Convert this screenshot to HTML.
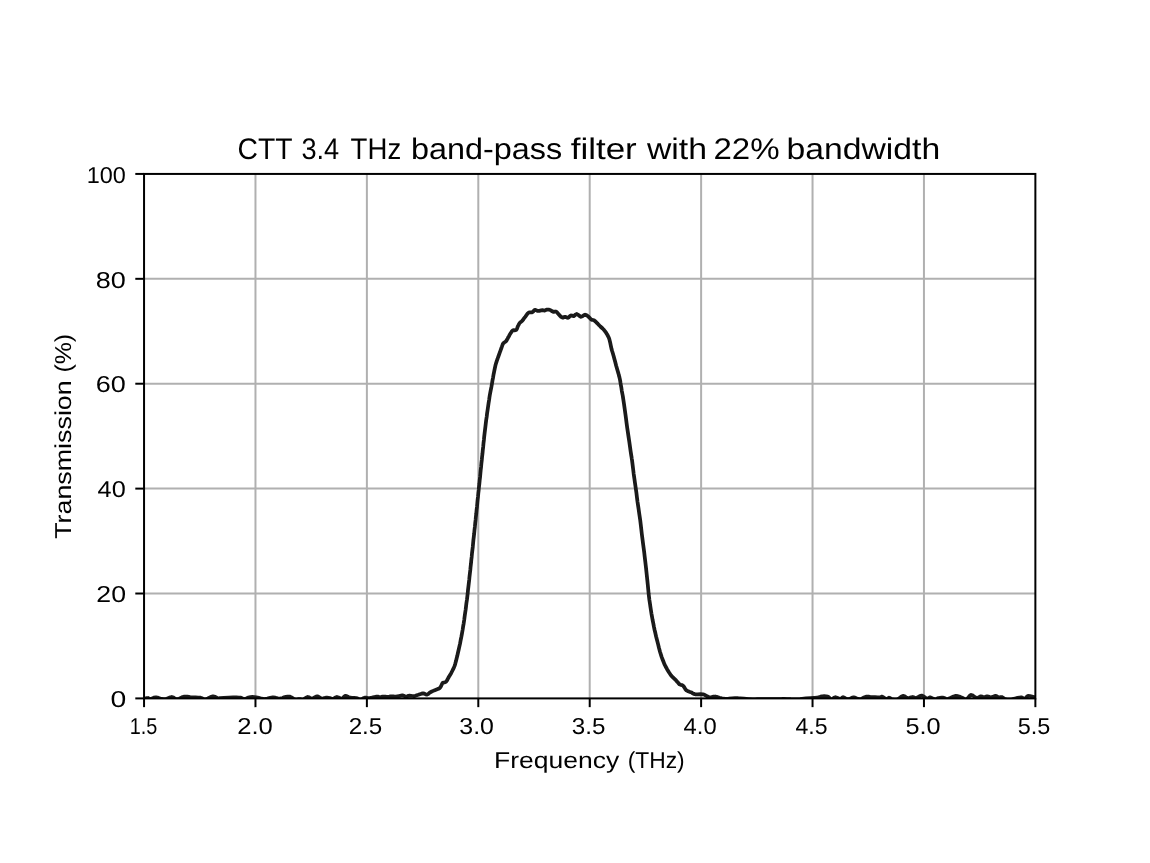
<!DOCTYPE html>
<html><head><meta charset="utf-8"><style>
html,body{margin:0;padding:0;background:#fff;}
body{width:1150px;height:863px;overflow:hidden;}
svg{display:block;}
text{font-family:"Liberation Sans",sans-serif;fill:#000;text-rendering:geometricPrecision;}
text.t{stroke:#fff;stroke-width:0;}
</style></head><body>
<svg width="1150" height="863" viewBox="0 0 1150 863">
<rect x="0" y="0" width="1150" height="863" fill="#fff"/>
<g stroke="#b0b0b0" stroke-width="2">
<line x1="255.47" y1="173.93" x2="255.47" y2="698.40"/>
<line x1="366.88" y1="173.93" x2="366.88" y2="698.40"/>
<line x1="478.30" y1="173.93" x2="478.30" y2="698.40"/>
<line x1="589.71" y1="173.93" x2="589.71" y2="698.40"/>
<line x1="701.12" y1="173.93" x2="701.12" y2="698.40"/>
<line x1="812.54" y1="173.93" x2="812.54" y2="698.40"/>
<line x1="923.95" y1="173.93" x2="923.95" y2="698.40"/>
<line x1="144.05" y1="593.51" x2="1035.37" y2="593.51"/>
<line x1="144.05" y1="488.61" x2="1035.37" y2="488.61"/>
<line x1="144.05" y1="383.72" x2="1035.37" y2="383.72"/>
<line x1="144.05" y1="278.82" x2="1035.37" y2="278.82"/>
</g>
<defs><clipPath id="ax"><rect x="144.05" y="173.93" width="891.32" height="524.47"/></clipPath></defs>
<path d="M144.0,698.7 L145.1,698.5 L146.6,698.2 L148.0,698.0 L148.8,698.4 L149.4,698.9 L150.4,699.1 L151.9,698.6 L153.8,697.7 L156.0,697.3 L158.6,697.9 L161.5,698.9 L164.3,699.4 L166.9,698.8 L169.4,697.6 L171.7,697.0 L173.5,697.6 L175.1,698.8 L176.9,699.4 L179.2,698.7 L181.8,697.4 L184.5,696.5 L187.3,696.5 L190.1,697.0 L192.9,697.3 L195.6,697.4 L198.2,697.5 L200.5,697.7 L202.2,698.3 L203.7,699.2 L205.4,699.4 L207.8,698.5 L210.5,697.1 L213.0,696.3 L215.2,696.8 L217.1,697.9 L218.6,698.7 L218.9,698.7 L218.8,698.4 L220.0,698.0 L223.7,697.8 L228.8,697.5 L233.2,697.3 L236.3,697.3 L238.9,697.5 L240.9,697.7 L242.2,698.2 L243.1,698.8 L244.3,699.1 L246.2,698.5 L248.4,697.6 L250.6,697.0 L252.4,696.9 L254.2,697.0 L256.2,697.3 L258.8,697.9 L261.6,698.7 L264.5,699.1 L267.3,698.6 L270.2,697.8 L272.9,697.3 L275.4,697.7 L277.8,698.4 L279.8,698.7 L281.3,698.4 L282.6,697.9 L284.0,697.3 L285.8,696.9 L287.7,696.6 L289.6,696.6 L291.5,697.4 L293.3,698.6 L295.1,699.4 L296.9,699.5 L298.5,699.2 L300.0,699.1 L301.0,699.4 L301.8,699.8 L302.8,699.8 L304.3,698.9 L306.0,697.7 L307.7,697.0 L309.1,697.4 L310.4,698.3 L311.8,698.7 L313.6,698.0 L315.6,696.9 L317.4,696.3 L318.9,696.9 L320.3,698.0 L321.6,698.7 L323.0,698.6 L324.3,698.1 L325.7,697.7 L327.1,697.7 L328.6,697.8 L329.9,698.0 L330.9,698.4 L331.7,698.9 L332.7,699.1 L334.0,698.5 L335.4,697.5 L336.9,697.0 L338.5,697.5 L340.2,698.3 L341.7,698.7 L342.9,698.0 L344.0,696.7 L345.2,695.9 L346.7,696.2 L348.3,697.0 L350.1,697.7 L352.1,697.9 L354.3,697.9 L356.3,698.0 L357.8,698.6 L359.2,699.4 L360.5,699.8 L361.9,699.3 L363.2,698.3 L364.7,697.7 L366.2,697.7 L367.8,698.0 L369.6,698.0 L371.9,697.6 L374.4,697.0 L376.5,696.6 L377.9,696.7 L378.9,696.9 L380.0,697.0 L381.3,696.9 L382.6,696.7 L384.0,696.6 L385.3,696.6 L386.7,696.8 L388.0,696.8 L389.3,696.7 L390.7,696.4 L392.0,696.3 L393.3,696.4 L394.7,696.5 L396.0,696.6 L397.4,696.4 L398.8,696.2 L400.0,695.9 L400.9,695.7 L401.7,695.4 L402.6,695.4 L403.7,695.7 L404.9,696.2 L406.1,696.5 L407.2,696.3 L408.4,695.9 L409.6,695.7 L411.0,695.8 L412.4,696.0 L413.9,696.1 L415.3,695.8 L416.8,695.3 L418.3,694.8 L419.9,694.2 L421.5,693.7 L423.0,693.4 L424.4,693.7 L425.7,694.4 L427.0,694.6 L428.1,694.1 L429.2,693.1 L430.4,692.2 L431.8,691.5 L433.2,690.9 L434.8,690.2 L436.6,689.5 L438.4,688.8 L440.0,687.8 L441.0,686.2 L441.8,684.4 L442.6,683.0 L443.7,682.5 L444.8,682.4 L445.9,681.9 L446.9,680.6 L447.8,678.8 L448.8,677.0 L449.9,675.2 L451.0,673.4 L452.0,671.5 L452.9,669.7 L453.8,667.9 L454.6,665.9 L455.3,663.6 L456.0,661.1 L456.6,658.5 L457.3,655.8 L457.9,653.0 L458.6,650.0 L459.3,646.8 L460.1,643.4 L460.7,640.0 L461.4,636.7 L462.0,633.3 L462.6,630.0 L463.1,626.7 L463.7,623.3 L464.2,620.0 L464.6,616.7 L465.1,613.3 L465.6,610.0 L466.0,606.7 L466.4,603.3 L466.9,600.0 L467.3,596.7 L467.7,593.3 L468.0,590.0 L468.4,586.7 L468.8,583.3 L469.2,580.0 L469.5,576.7 L469.9,573.3 L470.3,570.0 L470.6,566.7 L471.0,563.3 L471.3,560.0 L471.7,556.7 L472.0,553.3 L472.4,550.0 L472.8,546.7 L473.1,543.3 L473.4,540.0 L473.8,536.7 L474.2,533.3 L474.5,530.0 L474.9,526.7 L475.2,523.3 L475.6,520.0 L475.9,516.7 L476.3,513.3 L476.6,510.0 L477.0,506.7 L477.3,503.3 L477.6,500.0 L478.0,496.7 L478.3,493.3 L478.7,490.0 L479.0,486.7 L479.4,483.3 L479.7,480.0 L480.1,476.7 L480.4,473.3 L480.7,470.0 L481.1,466.7 L481.4,463.3 L481.8,460.0 L482.1,456.7 L482.5,453.3 L482.8,450.0 L483.2,446.7 L483.5,443.3 L483.9,440.0 L484.2,436.7 L484.6,433.3 L485.0,430.0 L485.4,426.7 L485.8,423.3 L486.2,420.0 L486.7,416.7 L487.1,413.3 L487.6,410.0 L488.1,406.5 L488.6,403.1 L489.1,400.0 L489.4,397.7 L489.7,395.8 L490.1,393.5 L490.7,390.4 L491.4,386.9 L492.0,383.5 L492.5,380.4 L493.1,377.3 L493.6,374.3 L494.2,371.3 L494.8,368.3 L495.4,365.6 L496.1,363.1 L496.8,360.9 L497.5,359.0 L498.0,357.5 L498.5,356.3 L498.9,355.0 L499.4,353.6 L499.9,352.2 L500.4,350.8 L500.9,349.4 L501.4,348.0 L501.9,346.7 L502.3,345.5 L502.7,344.3 L503.3,343.3 L504.2,342.5 L505.2,341.9 L506.1,341.1 L506.9,339.9 L507.6,338.6 L508.3,337.2 L509.1,335.9 L509.8,334.5 L510.6,333.3 L511.3,332.2 L512.0,331.1 L512.8,330.4 L513.9,330.2 L515.1,330.3 L516.2,330.0 L516.9,329.0 L517.4,327.5 L517.9,326.2 L518.5,325.1 L519.0,324.0 L519.7,323.0 L520.5,322.2 L521.5,321.5 L522.4,320.6 L523.3,319.5 L524.2,318.1 L525.2,316.8 L526.3,315.3 L527.5,313.7 L528.7,312.6 L529.9,312.3 L531.1,312.4 L532.2,312.3 L533.2,311.5 L534.1,310.4 L535.0,309.8 L535.8,310.0 L536.6,310.5 L537.7,310.9 L539.3,310.8 L541.1,310.4 L542.6,310.2 L543.5,310.3 L544.1,310.5 L544.7,310.5 L545.5,310.2 L546.2,309.8 L547.1,309.5 L548.1,309.5 L549.1,309.7 L550.2,310.0 L551.2,310.6 L552.3,311.3 L553.3,311.8 L554.3,311.8 L555.2,311.5 L556.2,311.6 L557.1,312.4 L558.0,313.6 L559.0,314.7 L560.1,315.8 L561.1,316.8 L562.2,317.5 L563.2,317.5 L564.1,317.0 L565.0,316.8 L566.0,317.1 L567.1,317.7 L568.1,317.8 L569.1,317.1 L570.0,316.1 L570.9,315.4 L571.8,315.5 L572.7,316.0 L573.7,316.1 L574.7,315.4 L575.7,314.4 L576.8,314.0 L578.1,314.8 L579.6,316.0 L581.0,316.8 L582.4,316.3 L583.8,315.3 L585.1,314.7 L586.3,315.1 L587.5,315.9 L588.6,316.8 L589.6,317.8 L590.5,318.8 L591.4,319.6 L592.3,319.9 L593.1,320.0 L594.0,320.3 L594.9,321.0 L595.9,321.9 L596.8,322.8 L597.7,323.7 L598.5,324.6 L599.4,325.5 L600.4,326.5 L601.5,327.5 L602.6,328.5 L603.6,329.5 L604.5,330.6 L605.4,331.7 L606.2,332.9 L607.0,334.2 L607.7,335.5 L608.3,336.6 L608.8,337.7 L609.4,339.4 L610.1,342.2 L610.8,345.7 L611.5,348.9 L612.2,351.3 L612.9,353.5 L613.6,355.9 L614.4,359.0 L615.3,362.3 L616.1,365.5 L616.9,368.3 L617.7,371.0 L618.4,373.4 L618.9,375.4 L619.4,377.1 L619.8,378.9 L620.2,380.9 L620.5,382.9 L620.9,385.2 L621.4,387.9 L621.8,390.8 L622.3,393.5 L622.7,395.5 L623.0,397.4 L623.4,400.0 L624.0,404.1 L624.7,409.0 L625.4,413.9 L626.0,418.5 L626.6,423.2 L627.2,427.8 L627.9,432.4 L628.6,437.1 L629.3,441.7 L630.0,446.7 L630.7,451.7 L631.3,455.6 L631.6,457.4 L631.7,458.2 L632.0,460.0 L632.5,463.9 L633.1,468.9 L633.7,473.9 L634.4,478.8 L635.1,483.7 L635.8,488.5 L636.4,492.8 L636.9,497.0 L637.5,501.7 L638.4,507.6 L639.3,514.0 L640.2,520.0 L640.8,525.0 L641.3,529.4 L641.8,533.9 L642.4,538.5 L643.0,543.2 L643.6,547.8 L644.2,552.3 L644.7,556.7 L645.3,561.7 L646.0,567.8 L646.7,574.4 L647.3,580.0 L647.7,583.9 L648.0,587.0 L648.3,590.0 L648.6,593.3 L649.0,596.7 L649.4,600.0 L649.9,603.3 L650.4,606.7 L650.9,610.0 L651.4,613.3 L652.0,616.7 L652.6,620.0 L653.3,623.3 L653.9,626.7 L654.6,630.0 L655.4,633.3 L656.1,636.5 L657.0,640.0 L658.0,643.9 L659.0,648.0 L660.0,651.7 L660.9,654.6 L661.7,657.1 L662.6,659.5 L663.5,661.8 L664.4,664.1 L665.6,666.5 L667.2,669.4 L669.1,672.5 L670.9,675.2 L672.7,677.2 L674.5,678.9 L676.1,680.4 L677.4,681.9 L678.4,683.2 L679.5,684.3 L680.7,684.8 L681.8,685.0 L683.0,685.6 L684.1,687.0 L685.2,688.9 L686.5,690.4 L688.2,691.3 L690.0,692.0 L691.7,692.6 L692.8,693.3 L693.8,693.9 L695.2,694.3 L697.6,694.4 L700.6,694.2 L703.0,694.3 L704.5,694.8 L705.5,695.4 L706.5,696.0 L707.6,696.5 L708.7,697.0 L710.0,697.3 L711.6,697.1 L713.5,696.7 L715.2,696.5 L716.6,696.8 L718.0,697.3 L719.5,697.8 L721.3,698.2 L723.3,698.7 L725.6,698.9 L728.6,698.7 L732.1,698.3 L735.0,698.0 L736.8,698.0 L738.1,698.2 L740.2,698.4 L744.0,698.7 L748.6,699.0 L752.7,699.3 L755.2,699.3 L757.1,699.2 L760.3,699.1 L766.3,699.1 L773.4,699.1 L779.1,699.1 L781.5,699.0 L782.4,698.9 L784.0,698.9 L787.1,699.0 L790.8,699.2 L795.0,699.3 L800.1,699.0 L805.8,698.4 L810.4,698.0 L813.2,697.9 L815.0,697.8 L816.7,697.7 L818.6,697.2 L820.5,696.7 L822.3,696.3 L824.2,696.2 L826.1,696.3 L827.8,696.6 L829.1,697.6 L830.2,698.8 L831.3,699.4 L832.6,698.9 L834.0,697.8 L835.5,697.2 L837.1,697.7 L838.8,698.6 L840.3,699.1 L841.3,698.6 L842.1,697.7 L843.1,697.2 L844.6,697.8 L846.2,698.8 L848.0,699.4 L849.8,698.9 L851.7,697.9 L853.6,697.3 L855.6,697.9 L857.7,698.9 L859.8,699.4 L861.9,698.7 L864.0,697.5 L866.1,696.6 L868.1,696.5 L870.1,696.8 L872.3,697.0 L875.0,697.1 L877.8,697.3 L880.0,697.3 L881.0,697.1 L881.5,696.7 L882.1,696.6 L883.4,697.4 L884.9,698.4 L886.3,699.1 L887.3,698.8 L888.1,698.1 L889.0,697.7 L890.1,698.1 L891.2,698.9 L892.5,699.4 L894.0,699.7 L895.7,699.7 L897.4,699.4 L899.2,698.3 L901.2,696.8 L903.0,695.9 L904.7,696.3 L906.2,697.4 L907.8,698.0 L909.5,697.8 L911.2,697.3 L912.7,697.0 L913.9,697.3 L914.9,697.9 L916.2,698.0 L917.9,697.3 L919.8,696.1 L921.7,695.6 L923.7,696.4 L925.6,697.8 L927.3,698.7 L928.4,698.5 L929.1,697.7 L930.1,697.3 L931.6,697.9 L933.4,698.9 L935.0,699.4 L936.2,699.2 L937.2,698.5 L938.4,698.0 L940.0,697.8 L941.7,697.6 L943.3,697.7 L944.6,698.1 L945.7,698.7 L946.8,699.1 L947.7,699.1 L948.4,698.8 L949.6,698.4 L951.4,697.5 L953.6,696.5 L955.8,695.9 L958.0,696.2 L960.2,696.9 L962.1,697.7 L963.6,698.5 L964.9,699.3 L966.3,699.4 L967.8,698.1 L969.4,696.1 L971.1,694.9 L973.0,695.6 L974.9,697.1 L976.7,698.0 L978.3,697.7 L979.7,696.8 L980.9,696.3 L981.9,696.5 L982.8,697.0 L983.7,697.3 L984.8,697.1 L985.9,696.6 L987.1,696.3 L988.4,696.6 L989.9,697.1 L991.3,697.3 L992.7,696.9 L994.2,696.3 L995.5,695.9 L996.7,696.3 L997.9,696.9 L999.0,697.3 L999.9,697.3 L1000.8,697.0 L1001.7,697.0 L1002.8,697.6 L1003.9,698.4 L1005.2,699.1 L1006.7,699.4 L1008.4,699.6 L1010.1,699.6 L1011.9,699.3 L1013.8,698.8 L1015.7,698.4 L1017.6,697.9 L1019.5,697.5 L1021.2,697.3 L1022.5,697.8 L1023.6,698.5 L1024.7,698.7 L1025.8,698.0 L1026.9,696.7 L1028.2,695.9 L1030.0,696.0 L1032.0,696.5 L1033.7,697.0 L1034.8,697.2 L1035.5,697.3 L1036.0,697.3" fill="none" stroke="#1a1a1a" stroke-width="3.75" stroke-linejoin="round" stroke-linecap="round" clip-path="url(#ax)"/>
<rect x="144.05" y="173.93" width="891.32" height="524.47" fill="none" stroke="#000" stroke-width="2"/>
<g stroke="#000" stroke-width="2">
<line x1="144.05" y1="698.40" x2="144.05" y2="707.15"/>
<line x1="255.47" y1="698.40" x2="255.47" y2="707.15"/>
<line x1="366.88" y1="698.40" x2="366.88" y2="707.15"/>
<line x1="478.30" y1="698.40" x2="478.30" y2="707.15"/>
<line x1="589.71" y1="698.40" x2="589.71" y2="707.15"/>
<line x1="701.12" y1="698.40" x2="701.12" y2="707.15"/>
<line x1="812.54" y1="698.40" x2="812.54" y2="707.15"/>
<line x1="923.95" y1="698.40" x2="923.95" y2="707.15"/>
<line x1="1035.37" y1="698.40" x2="1035.37" y2="707.15"/>
<line x1="144.05" y1="698.40" x2="135.30" y2="698.40"/>
<line x1="144.05" y1="593.51" x2="135.30" y2="593.51"/>
<line x1="144.05" y1="488.61" x2="135.30" y2="488.61"/>
<line x1="144.05" y1="383.72" x2="135.30" y2="383.72"/>
<line x1="144.05" y1="278.82" x2="135.30" y2="278.82"/>
<line x1="144.05" y1="173.93" x2="135.30" y2="173.93"/>
</g>
<g opacity="0.999">
<text x="237.60" y="158.70" font-size="29.8" class="t" textLength="55.00" lengthAdjust="spacingAndGlyphs">CTT</text>
<text x="301.40" y="158.70" font-size="29.8" class="t" textLength="37.80" lengthAdjust="spacingAndGlyphs">3.4</text>
<text x="350.60" y="158.70" font-size="29.8" class="t" textLength="50.59" lengthAdjust="spacingAndGlyphs">THz</text>
<text x="411.00" y="158.70" font-size="29.8" class="t" textLength="151.12" lengthAdjust="spacingAndGlyphs">band-pass</text>
<text x="570.70" y="158.70" font-size="29.8" class="t" textLength="66.04" lengthAdjust="spacingAndGlyphs">filter</text>
<text x="646.90" y="158.70" font-size="29.8" class="t" textLength="60.10" lengthAdjust="spacingAndGlyphs">with</text>
<text x="713.40" y="158.70" font-size="29.8" class="t" textLength="66.11" lengthAdjust="spacingAndGlyphs">22%</text>
<text x="786.60" y="158.70" font-size="29.8" class="t" textLength="153.59" lengthAdjust="spacingAndGlyphs">bandwidth</text>
<text x="129.80" y="733.60" font-size="23" class="n" textLength="27.62" lengthAdjust="spacingAndGlyphs">1.5</text>
<text x="237.20" y="733.60" font-size="23" class="n" textLength="35.62" lengthAdjust="spacingAndGlyphs">2.0</text>
<text x="348.70" y="733.60" font-size="23" class="n" textLength="33.60" lengthAdjust="spacingAndGlyphs">2.5</text>
<text x="459.30" y="733.60" font-size="23" class="n" textLength="34.63" lengthAdjust="spacingAndGlyphs">3.0</text>
<text x="571.80" y="733.60" font-size="23" class="n" textLength="33.60" lengthAdjust="spacingAndGlyphs">3.5</text>
<text x="683.60" y="733.60" font-size="23" class="n" textLength="33.05" lengthAdjust="spacingAndGlyphs">4.0</text>
<text x="795.40" y="733.60" font-size="23" class="n" textLength="32.08" lengthAdjust="spacingAndGlyphs">4.5</text>
<text x="905.40" y="733.60" font-size="23" class="n" textLength="35.14" lengthAdjust="spacingAndGlyphs">5.0</text>
<text x="1017.80" y="733.60" font-size="23" class="n" textLength="32.60" lengthAdjust="spacingAndGlyphs">5.5</text>
<text x="86.70" y="182.70" font-size="23" class="n" textLength="39.07" lengthAdjust="spacingAndGlyphs">100</text>
<text x="95.80" y="287.50" font-size="23" class="n" textLength="30.08" lengthAdjust="spacingAndGlyphs">80</text>
<text x="95.80" y="392.00" font-size="23" class="n" textLength="30.08" lengthAdjust="spacingAndGlyphs">60</text>
<text x="97.60" y="497.30" font-size="23" class="n" textLength="28.10" lengthAdjust="spacingAndGlyphs">40</text>
<text x="96.30" y="602.20" font-size="23" class="n" textLength="29.70" lengthAdjust="spacingAndGlyphs">20</text>
<text x="110.40" y="707.10" font-size="23" class="n" textLength="15.76" lengthAdjust="spacingAndGlyphs">0</text>
<text x="494.00" y="767.60" font-size="23" class="n" textLength="125.23" lengthAdjust="spacingAndGlyphs">Frequency</text>
<text x="627.70" y="767.60" font-size="23" class="n" textLength="57.04" lengthAdjust="spacingAndGlyphs">(THz)</text>
<text transform="translate(71.00,538.80) rotate(-90)" x="0" y="0" font-size="23" textLength="158.51" lengthAdjust="spacingAndGlyphs">Transmission</text>
<text transform="translate(71.00,372.60) rotate(-90)" x="0" y="0" font-size="23" textLength="38.70" lengthAdjust="spacingAndGlyphs">(%)</text>
</g>
</svg>
</body></html>
